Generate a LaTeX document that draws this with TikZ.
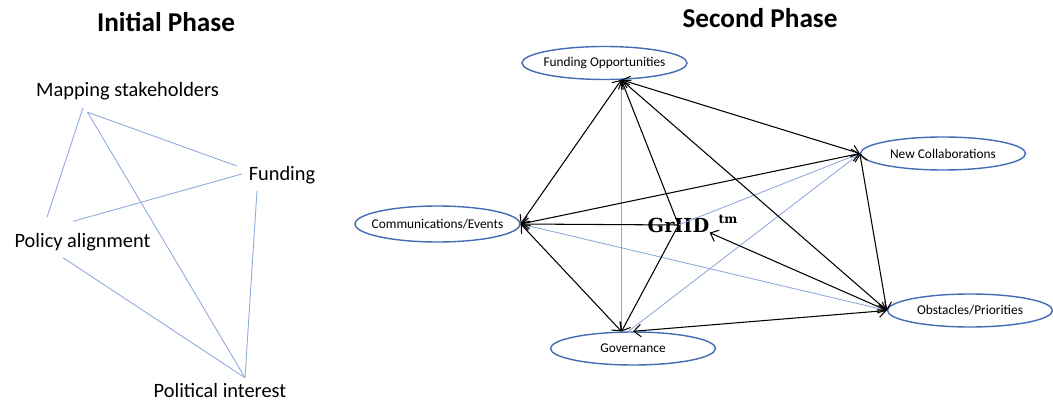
\documentclass[tikz,border=0pt]{standalone}
\usepackage{fontspec}
\setmainfont{Carlito}
\newfontfamily\gridfont{DejaVu Serif}
\usetikzlibrary{shapes.geometric,arrows.meta,calc}
\definecolor{ovalblue}{RGB}{68,108,180}
\definecolor{linkblue}{RGB}{143,170,220}
\begin{document}
\begin{tikzpicture}[x=0.02cm, y=-0.02cm, >={Straight Barb[length=4pt,width=7pt]}, title/.style={font=\fontsize{15.5}{18}\selectfont\bfseries, inner sep=0}, topic/.style={font=\fontsize{11.6}{14}\selectfont, inner sep=0}, oval/.style={draw=ovalblue, line width=0.8pt, ellipse, minimum width=3.3cm, minimum height=0.66cm, inner xsep=-0.16cm, inner ysep=0, font=\fontsize{7.6}{9}\selectfont}, link/.style={linkblue, line width=0.5pt}, arc/.style={black, line width=0.6pt}]
	\useasboundingbox (0,0) rectangle (1053,405);
	\node[title] (T1) at (166,22) {Initial Phase};
	\node[title] (T2) at (760,18) {Second Phase};
	\node[topic] (M) at (127.5,91) {Mapping stakeholders};
	\node[topic] (F) at (282,175) {Funding};
	\node[topic] (P) at (82.5,242) {Policy alignment};
	\node[topic] (PI) at (220,390) {Political interest};
	\draw[link] ($(M.south)+(-44.5,7.5)$) -- ($(P.north)+(-35.5,-15.5)$);
	\draw[link] ($(M.south)+(-40,12)$) -- ($(F.west)+(-11.6,-9)$);
	\draw[link] ($(M.south)+(-40,12)$) -- ($(PI.north)+(25,-4.75)$);
	\draw[link] ($(P.north)+(-9.5,-11.5)$) -- ($(F.west)+(-6.6,-1)$);
	\draw[link] ($(P.south)+(-19.5,6.5)$) -- ($(PI.north)+(25,-4.75)$);
	\draw[link] ($(F.south)+(-25,6.5)$) -- ($(PI.north)+(25,-4.75)$);
	\node[oval] (FO) at (604.5,63) {Funding Opportunities};
	\node[oval, minimum height=0.72cm] (CE) at (437.5,224) {Communications/Events};
	\node[oval] (NC) at (943,153.5) {New Collaborations};
	\node[oval] (OP) at (970,310.5) {Obstacles/Priorities};
	\node[oval] (GV) at (633,348.5) {Governance};
	\node[font=\gridfont\fontsize{11}{13}\selectfont\bfseries, inner sep=0] (G) at (678.5,225) {GrIID};
	\node[font=\gridfont\fontsize{7}{8}\selectfont\bfseries, inner sep=0] (TM) at (728,219) {tm};
	\draw[link] (FO.-45) -- (GV.124);
	\draw[link] (CE.east) -- (OP.west);
	\draw[link] (NC.west) -- (GV.105);
	\draw[link] (NC.west) -- (G.center);
	\draw[arc, <->] (CE.east) -- (FO.-45);
	\draw[arc, <->] (FO.-45) -- (NC.west);
	\draw[arc, <->] (FO.-45) -- (OP.west);
	\draw[arc, ->] (G.center) -- (FO.-45);
	\draw[arc, ->] (G.center) -- (GV.124);
	\draw[arc, ->] (G.center) -- (CE.east);
	\draw[arc, <->] (NC.west) -- (CE.east);
	\draw[arc, <->] (CE.east) -- (GV.124);
	\draw[arc, <->] (NC.west) -- (OP.west);
	\draw[arc, <->] (OP.west) -- (G.south east);
	\draw[arc, <->] (OP.west) -- (GV.north);
\end{tikzpicture}
\end{document}
